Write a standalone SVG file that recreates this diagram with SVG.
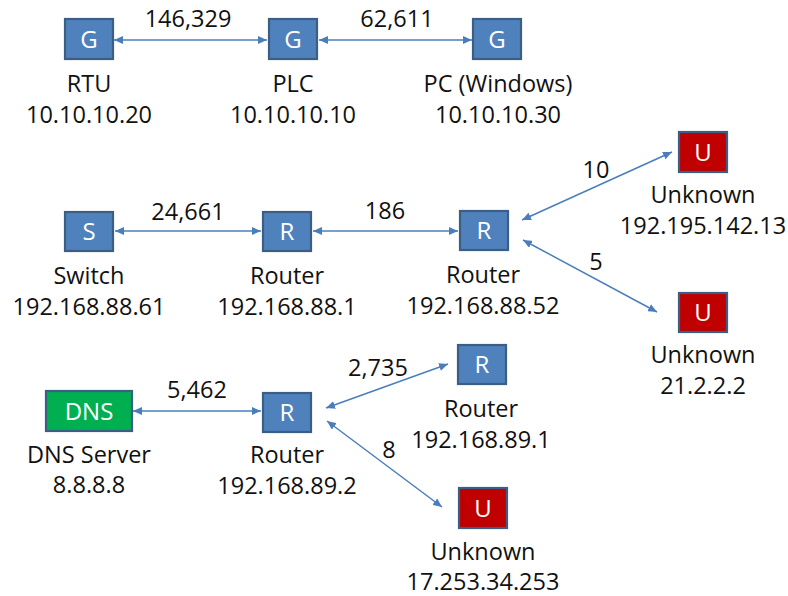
<svg xmlns="http://www.w3.org/2000/svg" width="788" height="596" viewBox="0 0 788 596">
  <style>
    text { font-family: "Open Sans", "Liberation Sans", sans-serif; }
    .lbl { font-size: 23.5px; fill: #111; text-anchor: middle; }
    .tag { font-size: 24px; fill: #fff; text-anchor: middle; }
    .box { stroke: #3b5f84; stroke-width: 2.2; }
    .blue { fill: #4f81bd; }
    .red { fill: #c00000; }
    .green { fill: #00b050; }
    .link { stroke: #4a7ebb; stroke-width: 1.5; fill: none; marker-start: url(#tip); marker-end: url(#tip); }
  </style>
  <defs>
    <marker id="tip" viewBox="0 0 9 8" refX="9" refY="4" markerWidth="9" markerHeight="8" markerUnits="userSpaceOnUse" orient="auto-start-reverse">
      <path d="M0,0 L9,4 L0,8 z" fill="#4a7ebb"/>
    </marker>
  </defs>

  <!-- connectors -->
  <g id="connectors">
    <line class="link" x1="114" y1="40" x2="267" y2="40"/>
    <line class="link" x1="319" y1="40" x2="472" y2="40"/>
    <line class="link" x1="115" y1="231" x2="261" y2="231"/>
    <line class="link" x1="313" y1="231" x2="458" y2="231"/>
    <line class="link" x1="522" y1="220" x2="672" y2="152"/>
    <line class="link" x1="523" y1="240" x2="657" y2="312"/>
    <line class="link" x1="133" y1="411" x2="261" y2="411"/>
    <line class="link" x1="326" y1="408" x2="448" y2="364"/>
    <line class="link" x1="327" y1="421" x2="442" y2="507"/>
    <text class="lbl" x="188" y="27">146,329</text>
    <text class="lbl" x="397" y="27">62,611</text>
    <text class="lbl" x="188" y="220">24,661</text>
    <text class="lbl" x="385" y="219">186</text>
    <text class="lbl" x="596" y="178">10</text>
    <text class="lbl" x="596" y="270">5</text>
    <text class="lbl" x="197" y="398">5,462</text>
    <text class="lbl" x="378" y="376">2,735</text>
    <text class="lbl" x="389" y="458">8</text>
  </g>

  <!-- top row -->
  <g id="rtu">
    <rect class="box blue" x="65" y="19" width="48" height="40"/>
    <text class="tag" x="89" y="47.5">G</text>
    <text class="lbl" x="89" y="92">RTU</text>
    <text class="lbl" x="89" y="123">10.10.10.20</text>
  </g>
  <g id="plc">
    <rect class="box blue" x="269" y="19" width="48" height="40"/>
    <text class="tag" x="293" y="47.5">G</text>
    <text class="lbl" x="293" y="92">PLC</text>
    <text class="lbl" x="293" y="123">10.10.10.10</text>
  </g>
  <g id="pc">
    <rect class="box blue" x="473" y="19" width="48" height="40"/>
    <text class="tag" x="497" y="47.5">G</text>
    <text class="lbl" x="498" y="92">PC (Windows)</text>
    <text class="lbl" x="498" y="123">10.10.10.30</text>
  </g>

  <!-- middle row -->
  <g id="switch">
    <rect class="box blue" x="65" y="212" width="48" height="39"/>
    <text class="tag" x="89" y="240">S</text>
    <text class="lbl" x="89" y="284">Switch</text>
    <text class="lbl" x="89" y="315">192.168.88.61</text>
  </g>
  <g id="router-88-1">
    <rect class="box blue" x="263" y="212" width="48" height="39"/>
    <text class="tag" x="287" y="240">R</text>
    <text class="lbl" x="287" y="284">Router</text>
    <text class="lbl" x="287" y="315">192.168.88.1</text>
  </g>
  <g id="router-88-52">
    <rect class="box blue" x="460" y="211" width="48" height="39"/>
    <text class="tag" x="484" y="239">R</text>
    <text class="lbl" x="483" y="283">Router</text>
    <text class="lbl" x="483" y="314">192.168.88.52</text>
  </g>
  <g id="unknown-192-195">
    <rect class="box red" x="679" y="132" width="48" height="40"/>
    <text class="tag" x="703" y="160.5">U</text>
    <text class="lbl" x="703" y="203">Unknown</text>
    <text class="lbl" x="703" y="234">192.195.142.13</text>
  </g>
  <g id="unknown-21">
    <rect class="box red" x="679" y="293" width="48" height="39"/>
    <text class="tag" x="703" y="321">U</text>
    <text class="lbl" x="703" y="363">Unknown</text>
    <text class="lbl" x="703" y="394">21.2.2.2</text>
  </g>

  <!-- bottom row -->
  <g id="dns">
    <rect class="box green" x="46" y="391" width="86" height="40"/>
    <text class="tag" x="89" y="419.5">DNS</text>
    <text class="lbl" x="89" y="463">DNS Server</text>
    <text class="lbl" x="89" y="493">8.8.8.8</text>
  </g>
  <g id="router-89-2">
    <rect class="box blue" x="263" y="393" width="48" height="39"/>
    <text class="tag" x="287" y="421">R</text>
    <text class="lbl" x="287" y="463">Router</text>
    <text class="lbl" x="287" y="494">192.168.89.2</text>
  </g>
  <g id="router-89-1">
    <rect class="box blue" x="458" y="345" width="48" height="39"/>
    <text class="tag" x="482" y="373">R</text>
    <text class="lbl" x="481" y="417">Router</text>
    <text class="lbl" x="481" y="448">192.168.89.1</text>
  </g>
  <g id="unknown-17">
    <rect class="box red" x="459" y="488" width="48" height="40"/>
    <text class="tag" x="483" y="516.5">U</text>
    <text class="lbl" x="483" y="560">Unknown</text>
    <text class="lbl" x="483" y="590">17.253.34.253</text>
  </g>
</svg>
